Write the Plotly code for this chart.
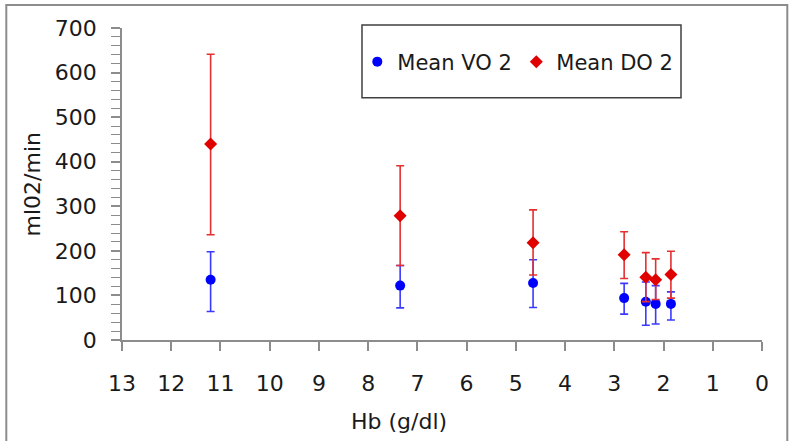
import plotly.graph_objects as go

# Data
hb = [11.2, 7.35, 4.65, 2.8, 2.36, 2.16, 1.85]

vo2_mean = [135, 122, 128, 94, 86, 81, 81]
vo2_upper = [198, 167, 180, 127, 130, 122, 108]
vo2_lower = [64, 72, 73, 58, 33, 36, 45]

do2_mean = [440, 279, 218, 191, 141, 135, 147]
do2_upper = [641, 391, 292, 243, 196, 182, 199]
do2_lower = [236, 167, 146, 138, 86, 91, 94]

x_ticks = list(range(0, 14))
y_ticks = list(range(0, 800, 100))

FONT = "DejaVu Sans"
TXT = "#1a1a1a"
AX = "#8c8c8c"

fig = go.Figure()

fig.add_trace(go.Scatter(
    x=hb, y=vo2_mean, mode="markers", name="Mean VO 2",
    marker=dict(symbol="circle", size=10, color="#0000ff"),
    error_y=dict(type="data", symmetric=False,
                 array=[u - m for u, m in zip(vo2_upper, vo2_mean)],
                 arrayminus=[m - l for m, l in zip(vo2_mean, vo2_lower)],
                 color="#3a3aff", thickness=1.6, width=4),
))
fig.add_trace(go.Scatter(
    x=hb, y=do2_mean, mode="markers", name="Mean DO 2",
    marker=dict(symbol="diamond", size=10, color="#e00000"),
    error_y=dict(type="data", symmetric=False,
                 array=[u - m for u, m in zip(do2_upper, do2_mean)],
                 arrayminus=[m - l for m, l in zip(do2_mean, do2_lower)],
                 color="#e53030", thickness=1.6, width=4),
))

# plot area: x 121.7..761.7, y 28..340
L, R, T, B = 121.7, 761.7, 28, 340
W, H = R - L, B - T

def px(x):
    return (x - L) / W

def py(y):
    return (B - y) / H

fig.update_layout(
    width=792, height=441,
    margin=dict(l=L, r=792 - R, t=T, b=441 - B),
    paper_bgcolor="white", plot_bgcolor="white",
    font=dict(family=FONT, size=22, color=TXT),
    showlegend=True,
    legend=dict(orientation="h", x=px(357), y=py(62), xanchor="left", yanchor="middle",
                bgcolor="rgba(0,0,0,0)", borderwidth=0,
                font=dict(family=FONT, size=21, color=TXT),
                entrywidth=114, itemwidth=30),
    xaxis=dict(range=[13, 0], tickvals=x_ticks, ticktext=[str(v) for v in x_ticks],
               showgrid=False, zeroline=False, showline=True, linecolor=AX, linewidth=1.5,
               ticks="outside", ticklen=9, tickcolor=AX, tickwidth=1.5,
               ticklabelstandoff=14,
               tickfont=dict(family=FONT, size=22, color=TXT)),
    yaxis=dict(range=[0, 700], tickvals=y_ticks, ticktext=[str(v) for v in y_ticks],
               showgrid=False, zeroline=False, showline=True, linecolor=AX, linewidth=1.5,
               ticks="outside", ticklen=9, tickcolor=AX, tickwidth=1.5,
               minor=dict(dtick=20, ticks="outside", ticklen=9, tickcolor=AX, tickwidth=1, showgrid=False),
               ticklabelstandoff=10,
               tickfont=dict(family=FONT, size=22, color=TXT)),
    shapes=[
        dict(type="rect", xref="paper", yref="paper",
             x0=px(6), x1=px(787), y0=py(446), y1=py(5),
             line=dict(color="#8c8c8c", width=2), fillcolor="rgba(0,0,0,0)", layer="below"),
        dict(type="rect", xref="paper", yref="paper",
             x0=px(361.7), x1=px(680.7), y0=py(97.7), y1=py(25),
             line=dict(color="#404040", width=1.5), fillcolor="rgba(0,0,0,0)"),
    ],
    annotations=[
        dict(text="Hb (g/dl)", xref="paper", yref="paper", x=px(399), y=py(421),
             xanchor="center", yanchor="middle", showarrow=False,
             font=dict(family=FONT, size=22, color=TXT)),
        dict(text="ml02/min", xref="paper", yref="paper", x=px(31.7), y=py(184.5),
             xanchor="center", yanchor="middle", showarrow=False, textangle=-90,
             font=dict(family=FONT, size=22, color=TXT)),
    ],
)

fig.write_html("out.html")
